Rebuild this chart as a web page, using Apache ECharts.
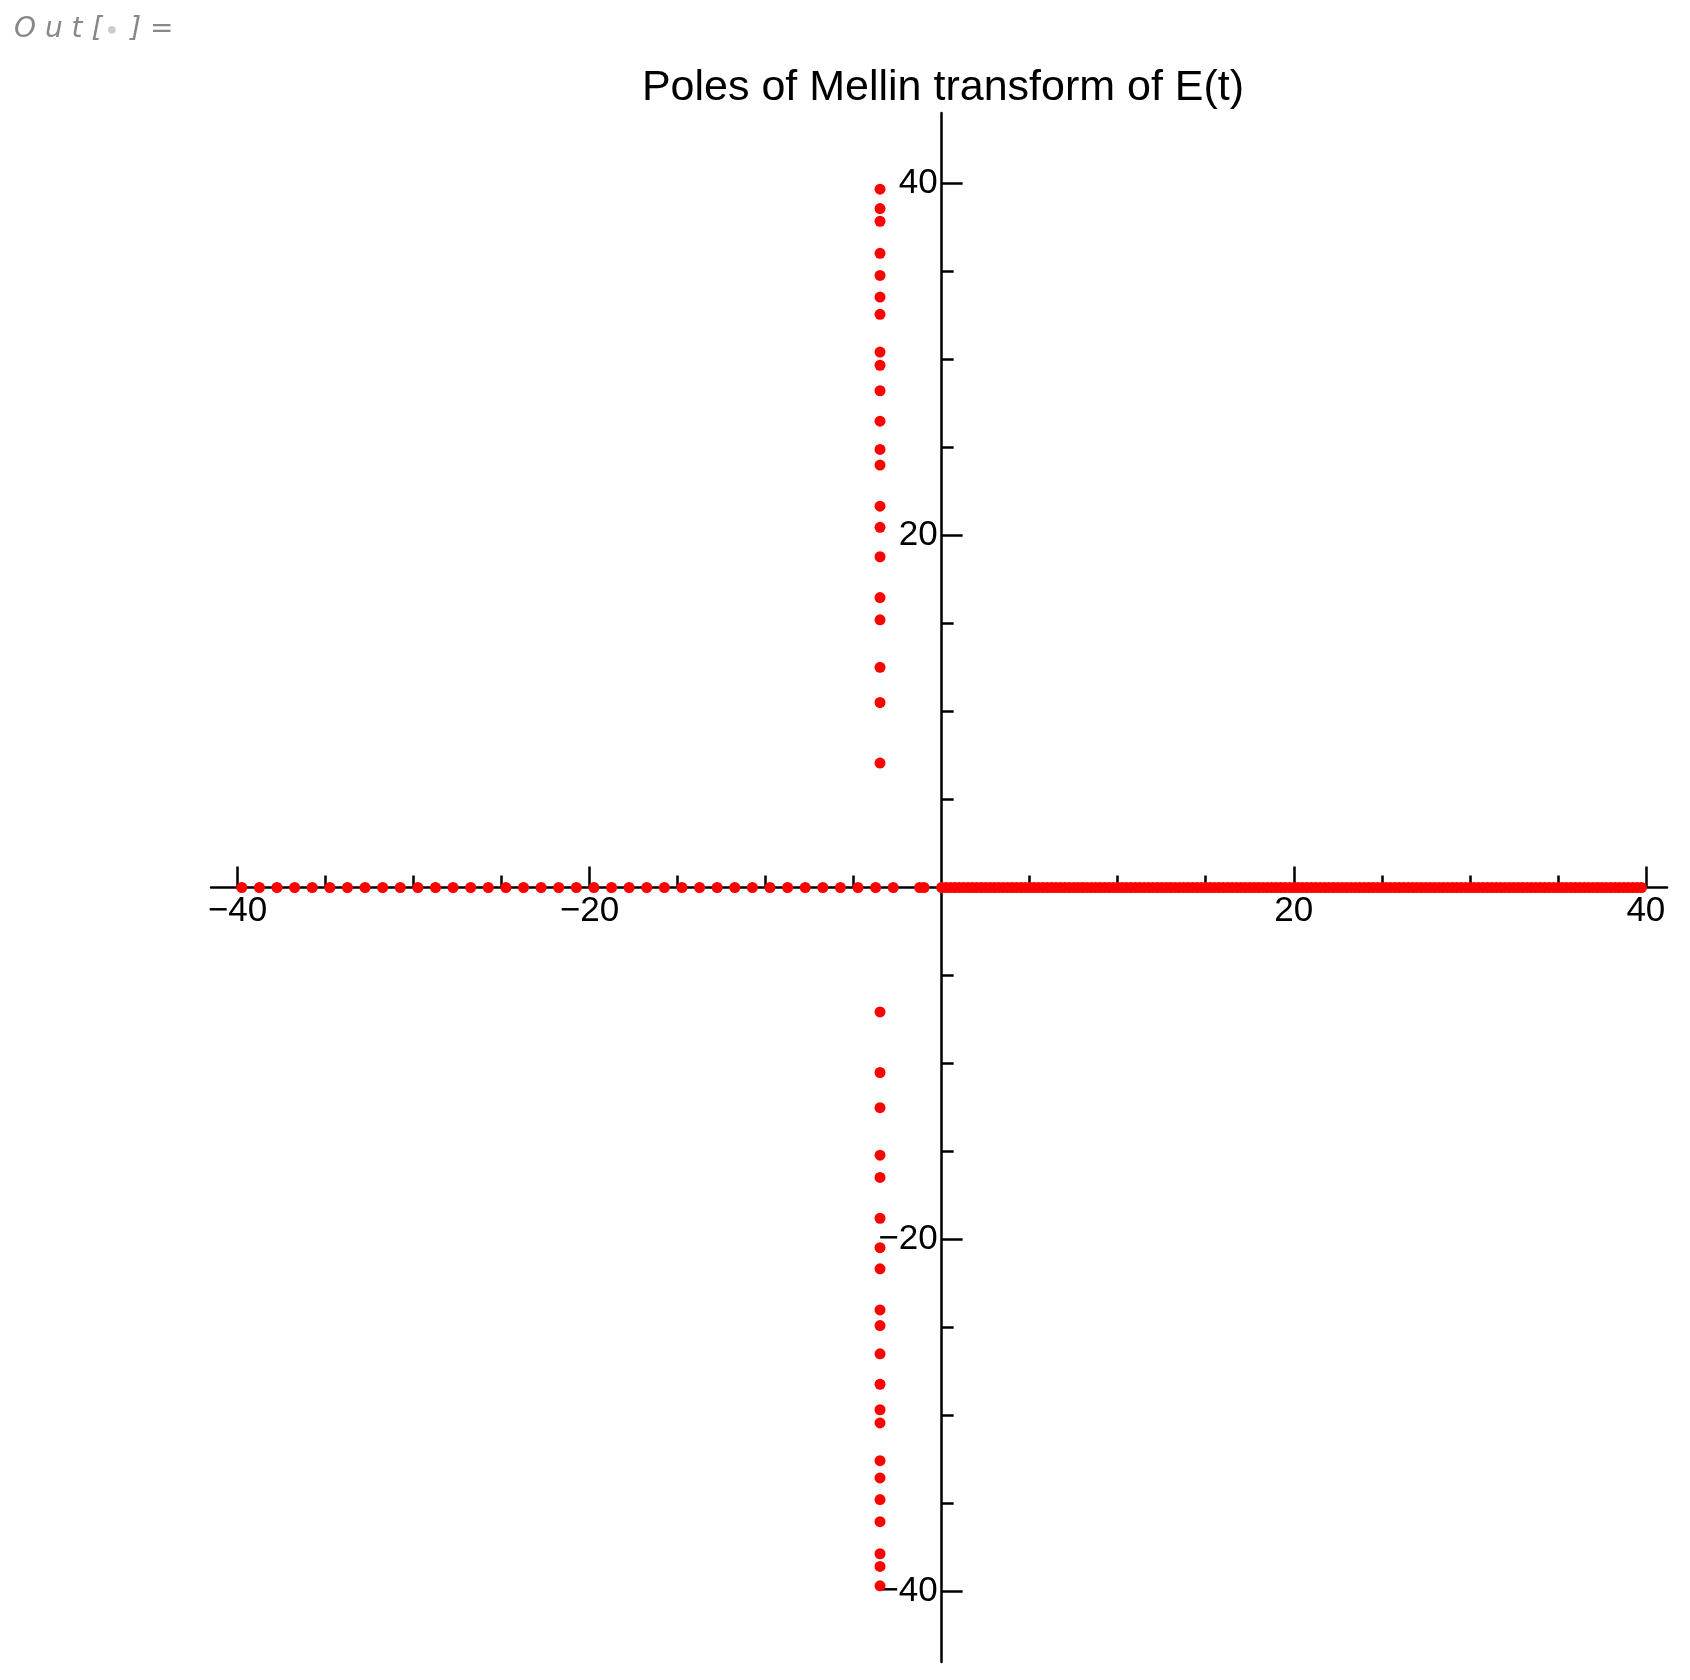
<!DOCTYPE html>
<html><head><meta charset="utf-8">
<script src="https://cdn.jsdelivr.net/npm/echarts@6/dist/echarts.min.js"></script>
<style>html,body{margin:0;padding:0;background:#fff}#c{width:1690px;height:1680px}</style>
</head><body><div id="c"></div>
<script>
const complexRe = -3.5;
const complexIm = [7.07, 10.51, 12.51, 15.21, 16.47, 18.79, 20.46, 21.66, 24.0, 24.89, 26.49, 28.22, 29.67, 30.42, 32.56, 33.54, 34.77, 36.03, 37.85, 38.57, 39.67];
// real poles on negative axis
const negReal = [-39.75,-38.75,-37.75,-36.75,-35.75,-34.75,-33.75,-32.75,-31.75,-30.75,-29.75,-28.75,-27.75,-26.75,-25.75,-24.75,-23.75,-22.75,-21.75,-20.75,-19.75,-18.75,-17.75,-16.75,-15.75,-14.75,-13.75,-12.75,-11.75,-10.75,-9.75,-8.75,-7.75,-6.75,-5.75,-4.75,-3.75,-2.75,-1.25,-1.0];
// dense real poles on positive axis (step 0.25 from 0 to 39.75)
const posReal = [];
for (let i = 0; i <= 159; i++) posReal.push(i / 4);
const majorTicks = [-40, -20, 20, 40];

const pts = [];
complexIm.forEach(v => { pts.push([complexRe, v]); pts.push([complexRe, -v]); });
negReal.forEach(v => pts.push([v, 0]));
posReal.forEach(v => pts.push([v, 0]));

const W = 1690, H = 1680;
const G = {left:211, right:1667, top:113, bottom:1662};
const XR = [-41.5, 41.2], YR = [-44, 44];
// offsets so the axes sit at the origin
const xOff = -((G.bottom - G.top) * (0 - YR[0]) / (YR[1] - YR[0]));
const yOff = -((G.right - G.left) * (0 - XR[0]) / (XR[1] - XR[0]));

const font = 'Liberation Sans, Arial, sans-serif';
const lineStyle = {color:'#000', width:2.5};
const fmt = v => v < 0 ? '\u2212' + (-v) : '' + v;
const ax = (pos, r, off, margin) => ({
  type:'value', position:pos, min:r[0], max:r[1], offset:off, splitLine:{show:false},
  axisLine:{show:true, onZero:false, lineStyle},
  axisTick:{show:true, inside:true, length:21, lineStyle, customValues:majorTicks},
  minorTick:{show:true, splitNumber:4, length:12, lineStyle},
  axisLabel:{show:true, customValues:majorTicks, margin, fontFamily:font, fontSize:35, color:'#000', formatter:fmt}
});
const chart = echarts.init(document.getElementById('c'));
chart.setOption({
  animation:false,
  backgroundColor:'#fff',
  title:{text:'Poles of Mellin transform of E(t)', left:938, top:62, textAlign:'center',
    textStyle:{fontFamily:font, fontSize:43, fontWeight:'normal', color:'#000'}},
  graphic:[{type:'text', left:14, top:16, style:{
    text:'{a|O u t [}{b|\u25CF}{a| ] =}',
    rich:{a:{font:'italic 28px "DejaVu Sans", sans-serif', fill:'#888'}, b:{fontSize:18, fill:'#ccc', padding:[0,4]}}}}],
  grid:{left:G.left, right:W-G.right, top:G.top, bottom:H-G.bottom, outerBoundsMode:'none', containLabel:false},
  xAxis:ax('bottom', XR, xOff, 6),
  yAxis:ax('left', YR, yOff, 4),
  series:[{type:'scatter', data:pts, symbolSize:11, itemStyle:{color:'#ff0000', opacity:1}, z:1}]
});
</script></body></html>
